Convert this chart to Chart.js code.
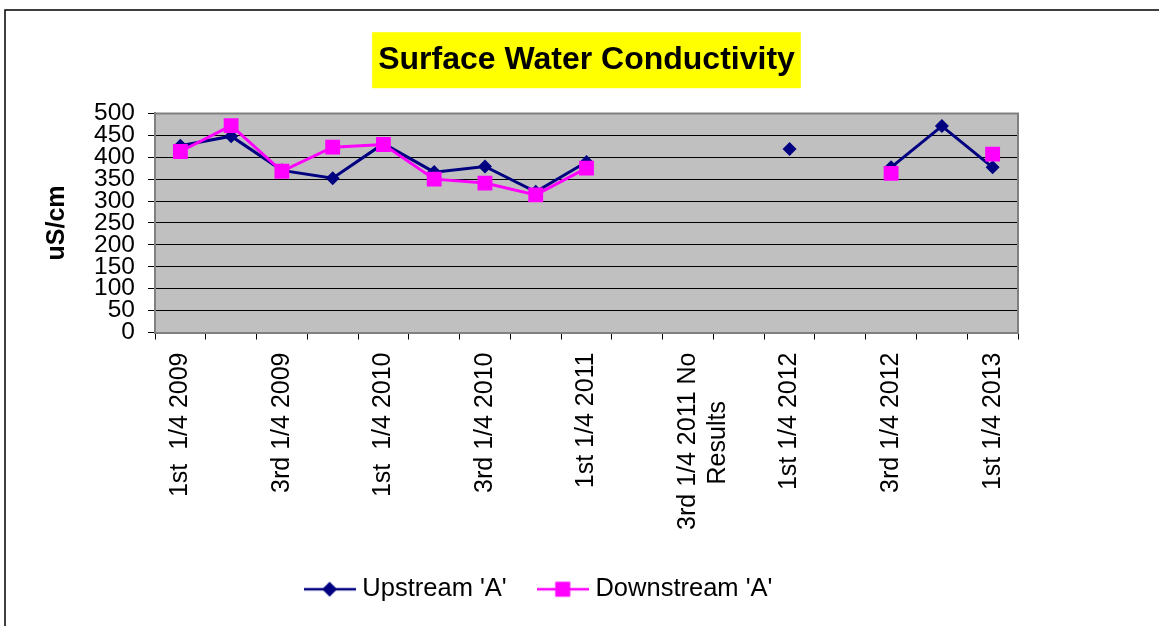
<!DOCTYPE html>
<html><head><meta charset="utf-8">
<script src="https://cdn.jsdelivr.net/npm/chart.js@4.4.1/dist/chart.umd.min.js"></script>
<style>html,body{margin:0;padding:0;background:#fff;overflow:hidden}canvas{display:block}</style>
</head><body>
<canvas id="c" width="1159" height="626"></canvas>
<script>
const categories = [
  "1st  1/4 2009", "2nd 1/4 2009", "3rd 1/4 2009", "4th 1/4 2009",
  "1st  1/4 2010", "2nd 1/4 2010", "3rd 1/4 2010", "4th 1/4 2010",
  "1st 1/4 2011", "2nd 1/4 2011", "3rd 1/4 2011 No Results", "4th 1/4 2011",
  "1st 1/4 2012", "2nd 1/4 2012", "3rd 1/4 2012", "4th 1/4 2012",
  "1st 1/4 2013"
];
const tickLabels = [
  "1st  1/4 2009", "", "3rd 1/4 2009", "",
  "1st  1/4 2010", "", "3rd 1/4 2010", "",
  "1st 1/4 2011", "", ["3rd 1/4 2011 No", "Results\u00A0\u00A0\u00A0\u00A0\u00A0\u00A0\u00A0"], "",
  "1st 1/4 2012", "", "3rd 1/4 2012", "",
  "1st 1/4 2013"
];
const upstream   = [426, 448, 370, 352, 431, 366, 379, 321, 389, null, null, null, 419, null, 377, 471, 377];
const downstream = [413, 472, 368, 423, 429, 350, 341, 314, 375, null, null, null, null, null, 363, null, 407];
const yTickValues = [0, 50, 100, 150, 200, 250, 300, 350, 400, 450, 500];
const seriesNames = ["Upstream 'A'", "Downstream 'A'"];
const chartTitle = "Surface Water Conductivity";
const yAxisTitle = "uS/cm";

const FONT = '"Liberation Sans", Arial, sans-serif';
const NAVY = '#000080', MAGENTA = '#FF00FF';

function legendIcon(color, shape) {
  const c = document.createElement('canvas');
  c.width = 52; c.height = 18;
  const g = c.getContext('2d');
  g.strokeStyle = color; g.lineWidth = 2.5;
  g.beginPath(); g.moveTo(0, 9); g.lineTo(52, 9); g.stroke();
  g.fillStyle = color;
  if (shape === 'diamond') {
    g.beginPath(); g.moveTo(26, 1.5); g.lineTo(33.5, 9); g.lineTo(26, 16.5); g.lineTo(18.5, 9); g.closePath(); g.fill();
  } else {
    g.fillRect(18.5, 1.5, 15, 15);
  }
  return c;
}
const icons = [legendIcon(NAVY, 'diamond'), legendIcon(MAGENTA, 'square')];

const TITLE_PAD_TOP = 41;
const TITLE_SIZE = 32;

const decor = {
  id: 'decor',
  beforeDraw(chart) {
    const {ctx, chartArea: a} = chart;
    ctx.save();
    ctx.fillStyle = '#C0C0C0';
    ctx.fillRect(a.left, a.top, a.right - a.left, a.bottom - a.top);
    const tb = chart.titleBlock;
    const cx = (tb.left + tb.right) / 2;
    ctx.font = 'bold ' + TITLE_SIZE + 'px ' + FONT;
    const w = ctx.measureText(chartTitle).width;
    const cy = tb.top + TITLE_PAD_TOP + TITLE_SIZE * 1.2 / 2;
    ctx.fillStyle = '#FFFF00';
    ctx.fillRect(cx - w / 2 - 6, cy - 28, w + 12, 56);
    ctx.strokeStyle = '#000'; ctx.lineWidth = 1.5;
    ctx.beginPath(); ctx.moveTo(5, 626); ctx.lineTo(5, 10); ctx.lineTo(1159, 10); ctx.stroke();
    ctx.restore();
  },
  beforeDatasetsDraw(chart) {
    const {ctx, chartArea: a} = chart;
    ctx.save();
    ctx.strokeStyle = '#808080'; ctx.lineWidth = 2;
    ctx.beginPath(); ctx.moveTo(a.left, a.top); ctx.lineTo(a.right, a.top); ctx.lineTo(a.right, a.bottom); ctx.stroke();
    ctx.restore();
  }
};

new Chart(document.getElementById('c'), {
  type: 'line',
  data: {
    labels: categories,
    datasets: [
      { label: seriesNames[0], data: upstream, borderColor: NAVY, backgroundColor: NAVY,
        borderWidth: 3, pointStyle: 'rectRot', pointRadius: 7, pointBorderWidth: 0,
        pointBackgroundColor: NAVY, tension: 0, spanGaps: false, order: 1 },
      { label: seriesNames[1], data: downstream, borderColor: MAGENTA, backgroundColor: MAGENTA,
        borderWidth: 3, pointStyle: 'rect', pointRadius: 10.5, pointBorderWidth: 0,
        pointBackgroundColor: MAGENTA, tension: 0, spanGaps: false, order: 0 }
    ]
  },
  options: {
    responsive: false,
    animation: false,
    devicePixelRatio: 1,
    layout: { padding: { left: 0, right: 77, top: 0, bottom: 14 } },
    plugins: {
      title: {
        display: true, text: chartTitle, fullSize: false, color: '#000',
        font: { family: FONT, size: TITLE_SIZE, weight: 'bold', lineHeight: 1.2 },
        padding: { top: TITLE_PAD_TOP, bottom: 34 }
      },
      legend: {
        display: true, position: 'bottom', align: 'center',
        labels: {
          usePointStyle: true, pointStyleWidth: 40, padding: 36, color: '#000',
          font: { family: FONT, size: 25.5 },
          generateLabels: (chart) => chart.data.datasets.map((ds, i) => ({
            text: ds.label, pointStyle: icons[i], fillStyle: ds.borderColor,
            strokeStyle: ds.borderColor, lineWidth: 0, hidden: !chart.isDatasetVisible(i),
            datasetIndex: i, fontColor: '#000'
          }))
        }
      },
      tooltip: { enabled: false }
    },
    scales: {
      x: {
        type: 'category', offset: true,
        grid: { offset: true, drawOnChartArea: false, drawTicks: true, tickLength: 7, color: '#000', lineWidth: 1 },
        border: { color: '#808080', width: 2 },
        ticks: {
          autoSkip: false, maxRotation: 90, minRotation: 90, padding: 13, color: '#000',
          font: { family: FONT, size: 25, lineHeight: 1.2 },
          callback: (v, i) => tickLabels[i]
        },
        afterFit: (s) => { s.height = 208; }
      },
      y: {
        min: yTickValues[0], max: yTickValues[yTickValues.length - 1],
        grid: { color: '#000', lineWidth: 1, drawTicks: true, tickLength: 7 },
        border: { color: '#808080', width: 2 },
        afterBuildTicks: (s) => { s.ticks = yTickValues.map(v => ({ value: v })); },
        ticks: { autoSkip: false, padding: 13, color: '#000', font: { family: FONT, size: 24.5 } },
        title: { display: true, text: yAxisTitle, color: '#000',
          font: { family: FONT, size: 25, weight: 'bold', lineHeight: 1.2 },
          padding: { top: 42, bottom: 0 } },
        afterFit: (s) => { s.width = 155; }
      },
      y2: {
        type: 'linear', position: 'right', display: true,
        grid: { display: false, drawTicks: false }, border: { display: false },
        ticks: { display: false },
        afterFit: (s) => { s.width = 64; }
      }
    }
  },
  plugins: [decor]
});
</script>
</body></html>
